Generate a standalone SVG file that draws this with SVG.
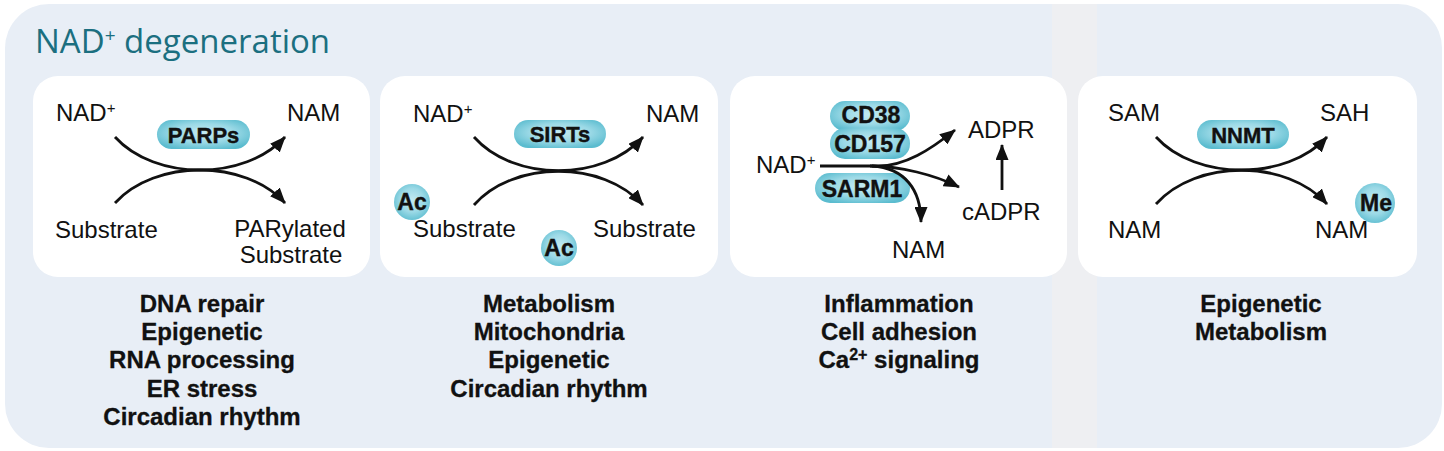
<svg xmlns="http://www.w3.org/2000/svg" width="1444" height="451" viewBox="0 0 1444 451">
<defs>
<radialGradient id="pillG" cx="50%" cy="45%" r="60%">
<stop offset="0" stop-color="#c4ebf2"/>
<stop offset="0.55" stop-color="#9bd9e6"/>
<stop offset="1" stop-color="#5bbccf"/>
</radialGradient>
<marker id="ah" viewBox="0 0 16 13" refX="15" refY="6.5" markerWidth="16" markerHeight="13" markerUnits="userSpaceOnUse" orient="auto">
<path d="M0,0 L16,6.5 L0,13 z" fill="#111"/>
</marker>
<style>
.lbl{font-family:"Liberation Sans",Arial,sans-serif;font-size:24px;fill:#111}
.enz{font-family:"Liberation Sans",Arial,sans-serif;font-size:22px;font-weight:bold;fill:#111;stroke:#111;stroke-width:0.4;text-anchor:middle}
.big{font-size:23px}
.fn{font-family:"Liberation Sans",Arial,sans-serif;font-size:24px;font-weight:bold;fill:#111;stroke:#111;stroke-width:0.3;text-anchor:middle}
.box{fill:#fff}
.pill{fill:url(#pillG)}
.cn{fill:none;stroke:#111;stroke-width:2.8;marker-end:url(#ah)}
.mid{text-anchor:middle}
</style>
</defs>
<g id="background">
<rect x="5" y="4" width="1437" height="444" rx="44" fill="#e8eef6"/>
<rect x="1052" y="4" width="45" height="444" fill="#eeeff2"/>
<text x="35" y="53" font-family="'Open Sans',sans-serif" font-size="33" fill="#1b6f80">NAD<tspan font-size="19" dy="-11">+</tspan><tspan dy="11"> degeneration</tspan></text>
</g>
<g id="parps">
<rect class="box" x="33" y="76" width="337" height="201" rx="25"/>
<text class="lbl" x="56" y="121">NAD<tspan font-size="15" dy="-8">+</tspan></text>
<text class="lbl" x="287" y="121">NAM</text>
<rect class="pill" x="157" y="120" width="93" height="29" rx="14.5"/>
<text class="enz" x="203.5" y="142.5">PARPs</text>
<text class="lbl" x="55" y="238">Substrate</text>
<text class="lbl mid" x="290" y="237">PARylated</text>
<text class="lbl mid" x="291" y="263">Substrate</text>
<text class="fn" x="202" y="312">DNA repair</text>
<text class="fn" x="202" y="340">Epigenetic</text>
<text class="fn" x="202" y="368">RNA processing</text>
<text class="fn" x="202" y="397">ER stress</text>
<text class="fn" x="202" y="425">Circadian rhythm</text>
</g>
<g id="sirts">
<rect class="box" x="380" y="76" width="338" height="201" rx="25"/>
<text class="lbl" x="413" y="122">NAD<tspan font-size="15" dy="-8">+</tspan></text>
<text class="lbl" x="646" y="122">NAM</text>
<rect class="pill" x="514" y="120" width="92" height="28" rx="14"/>
<text class="enz" x="560" y="142">SIRTs</text>
<circle class="pill" cx="412" cy="202" r="18"/>
<text class="enz big" x="412" y="210">Ac</text>
<text class="lbl" x="413" y="237">Substrate</text>
<circle class="pill" cx="559" cy="248" r="18"/>
<text class="enz big" x="559" y="256">Ac</text>
<text class="lbl" x="593" y="237">Substrate</text>
<text class="fn" x="549" y="312">Metabolism</text>
<text class="fn" x="549" y="340">Mitochondria</text>
<text class="fn" x="549" y="368">Epigenetic</text>
<text class="fn" x="549" y="397">Circadian rhythm</text>
</g>
<g id="cd38">
<rect class="box" x="730" y="76" width="337" height="201" rx="25"/>
<rect class="pill" x="830" y="101" width="80" height="30" rx="15"/>
<rect class="pill" x="830" y="128" width="80" height="31" rx="15"/>
<text class="enz big" x="871" y="123">CD38</text>
<text class="enz big" x="870" y="152">CD157</text>
<rect class="pill" x="815" y="173" width="95" height="30" rx="15"/>
<text class="enz big" x="862" y="197">SARM1</text>
<text class="lbl" x="756" y="173">NAD<tspan font-size="15" dy="-8">+</tspan></text>
<text class="lbl" x="968" y="138">ADPR</text>
<text class="lbl" x="962" y="220">cADPR</text>
<text class="lbl" x="892" y="258">NAM</text>
<text class="fn" x="899" y="312">Inflammation</text>
<text class="fn" x="899" y="340">Cell adhesion</text>
<text class="fn" x="899" y="368">Ca<tspan font-size="16" dy="-8">2+</tspan><tspan dy="8"> signaling</tspan></text>
</g>
<g id="nnmt">
<rect class="box" x="1078" y="76" width="339" height="201" rx="25"/>
<text class="lbl" x="1108" y="121">SAM</text>
<text class="lbl" x="1320" y="121">SAH</text>
<rect class="pill" x="1197" y="120" width="92" height="29" rx="14.5"/>
<text class="enz" x="1243" y="142.5">NNMT</text>
<circle class="pill" cx="1375" cy="203" r="20"/>
<text class="enz big" x="1376" y="211">Me</text>
<text class="lbl" x="1108" y="238">NAM</text>
<text class="lbl" x="1315" y="238">NAM</text>
<text class="fn" x="1261" y="312">Epigenetic</text>
<text class="fn" x="1261" y="340">Metabolism</text>
</g>
<g id="connectors">
<path class="cn" d="M115,137 C155,181 245,181 285,137"/>
<path class="cn" d="M115,203 C155,159 245,159 285,203"/>
<path class="cn" d="M474,137 C514,182 603,182 643,137"/>
<path class="cn" d="M474,205 C514,160 603,160 643,205"/>
<path class="cn" d="M1156,137 C1196,181 1287,181 1327,137"/>
<path class="cn" d="M1156,204 C1196,159 1287,159 1327,204"/>
<path class="cn" d="M820,166 H878 C905,166 930,150 955,130"/>
<path class="cn" d="M870,166 C900,166 935,175 959,187"/>
<path class="cn" d="M872,166 C905,168 921,190 921,222"/>
<path class="cn" d="M1002,190 V145"/>
</g>
</svg>
